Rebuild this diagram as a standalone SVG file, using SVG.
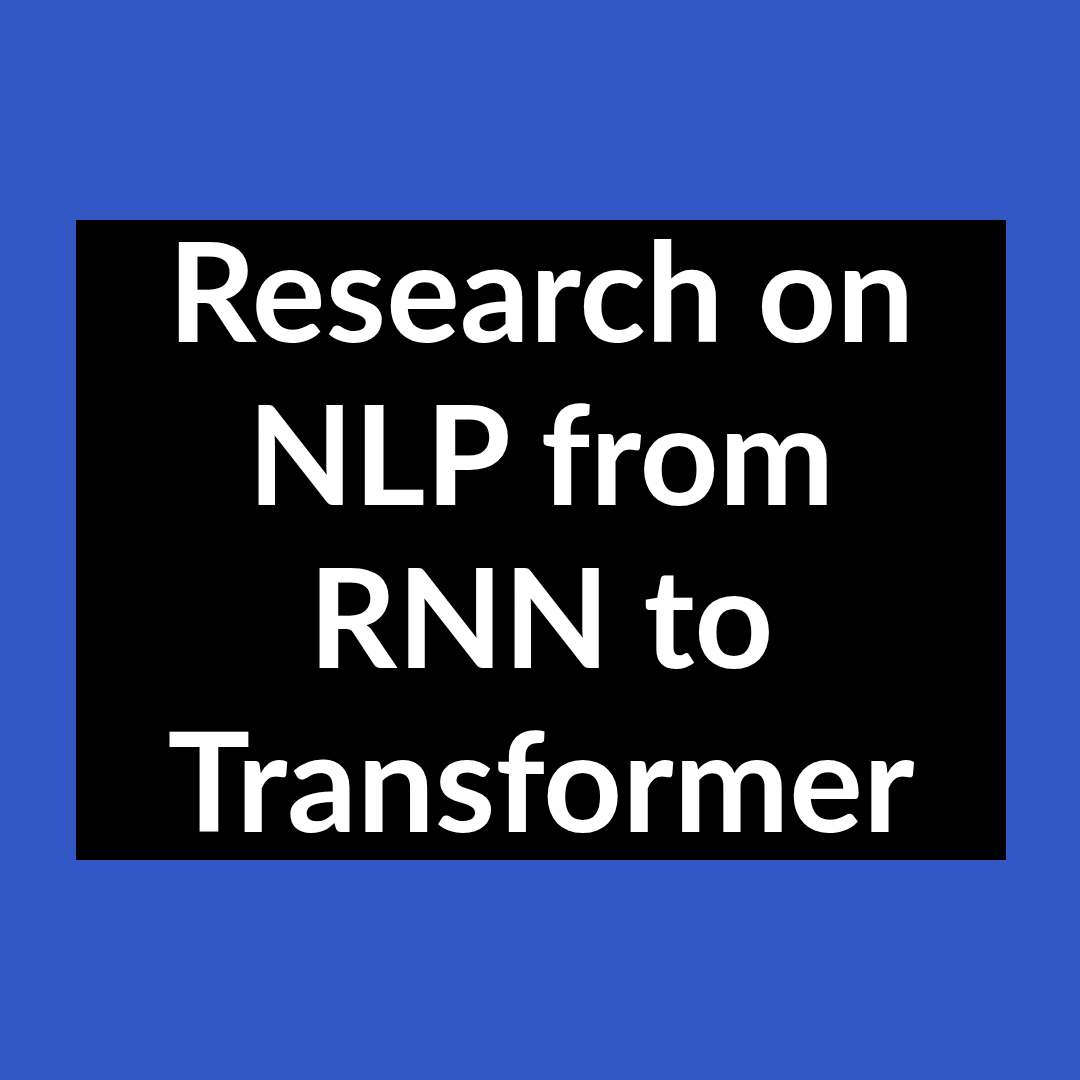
<svg xmlns="http://www.w3.org/2000/svg" width="1080" height="1080" viewBox="0 0 1080 1080">
<style>
.t{font-family:Lato,"Open Sans","Liberation Sans",sans-serif;font-weight:700;font-size:138px;fill:#ffffff;text-anchor:middle}
</style>
<rect x="0" y="0" width="1080" height="1080" fill="#3457C6"/>
<g id="title">
<rect x="76" y="220" width="930" height="640" fill="#000000"/>
<text class="t" x="541" y="342">Research on</text>
<text class="t" x="541" y="505">NLP from</text>
<text class="t" x="541" y="668">RNN to</text>
<text class="t" x="541" y="832">Transformer</text>
</g>
</svg>
